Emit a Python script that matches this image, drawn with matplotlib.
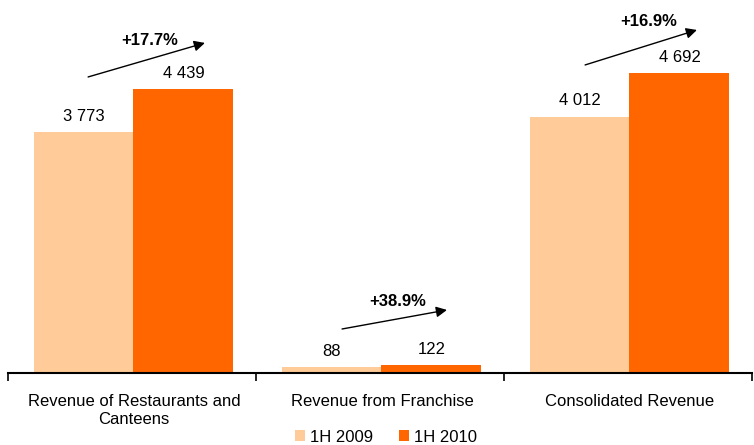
import numpy as np
import matplotlib.pyplot as plt

plt.rcParams['font.family'] = ['Liberation Sans', 'DejaVu Sans']

categories = ['Revenue of Restaurants and\nCanteens', 'Revenue from Franchise', 'Consolidated Revenue']
y2009 = [3773, 88, 4012]
y2010 = [4439, 122, 4692]
labels2009 = ['3 773', '88', '4 012']
labels2010 = ['4 439', '122', '4 692']
growth = ['+17.7%', '+38.9%', '+16.9%']

c09 = '#FFCC99'
c10 = '#FF6600'

fig = plt.figure(figsize=(7.54, 4.45), dpi=100)
ax = fig.add_axes([8/754, 1 - 373/445, 744/754, 373/445])

x = np.arange(len(categories)) + 0.006
w = 0.403
ax.bar(x - w/2, y2009, w, color=c09, label='1H 2009')
ax.bar(x + w/2, y2010, w, color=c10, label='1H 2010')

ax.set_xlim(-0.5, 2.5)
ax.set_ylim(0, 5840)

for i in range(len(x)):
    ax.annotate(labels2009[i], (x[i] - w/2, y2009[i]), xytext=(0, 16), textcoords='offset pixels',
                ha='center', va='center', fontsize=12)
    ax.annotate(labels2010[i], (x[i] + w/2, y2010[i]), xytext=(0, 16), textcoords='offset pixels',
                ha='center', va='center', fontsize=12)

# growth arrows: tail, head, label position (data coords)
arrows = [((-0.177, 4635), (0.294, 5168)),
          ((0.847, 689), (1.270, 987)),
          ((1.827, 4823), (2.278, 5371))]
growth_pos = [(0.073, 5199), (1.073, 1112), (2.085, 5497)]
for i, (p0, p1) in enumerate(arrows):
    ax.annotate('', xy=p1, xytext=p0,
                arrowprops=dict(arrowstyle='-|>', color='black', lw=1, mutation_scale=16,
                                shrinkA=0, shrinkB=0))
    ax.text(growth_pos[i][0], growth_pos[i][1], growth[i], ha='center', va='center',
            fontsize=12, fontweight='bold')

for s in ['top', 'right', 'left']:
    ax.spines[s].set_visible(False)
ax.spines['bottom'].set_linewidth(1.5)
ax.set_yticks([])
ax.set_xticks([-0.5, 0.5, 1.5, 2.5])
ax.set_xticklabels([])
ax.tick_params(axis='x', direction='out', length=6, width=1.2)
for i, c in enumerate(categories):
    ax.text(i + 0.008, -330, c, ha='center', va='top', fontsize=12, linespacing=1.25)

fig.legend(loc='center', bbox_to_anchor=(386/754, 1 - 437/445), ncol=2, frameon=False,
           fontsize=12, handlelength=0.6, handleheight=0.6, handletextpad=0.3,
           columnspacing=1.6, borderpad=0.1)

plt.savefig('out.png', dpi=100)
